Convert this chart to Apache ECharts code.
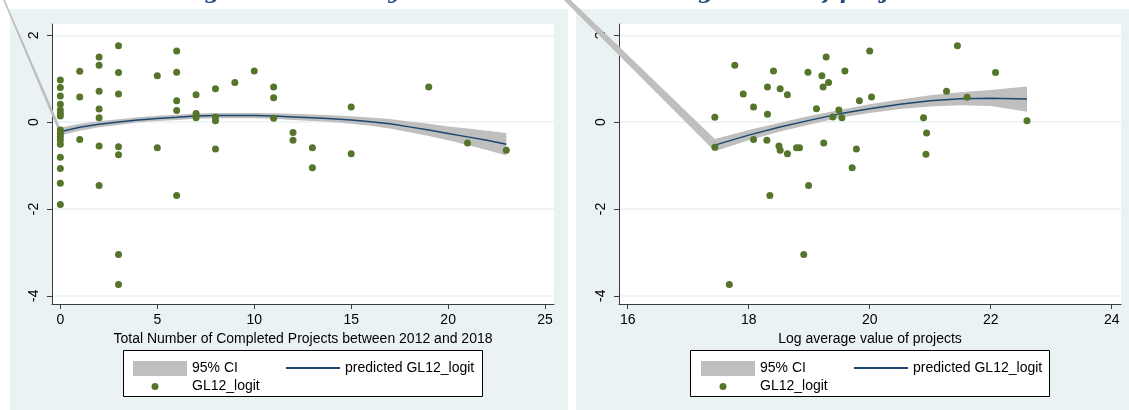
<!DOCTYPE html>
<html>
<head>
<meta charset="utf-8">
<script src="https://cdn.jsdelivr.net/npm/echarts@6/dist/echarts.min.js"></script>
<style>
  html, body { margin: 0; padding: 0; background: #ffffff; }
  #chart { width: 1129px; height: 410px; }
</style>
</head>
<body>
<div id="chart"></div>
<script>
// ---- Left panel: number of completed projects vs GL12_logit ----
const countX = [0,0,0,0,0,0,0,0,0,0,0,0,0,0,0,0,
  1,1,1,
  2,2,2,2,2,2,2,
  3,3,3,3,3,3,3,
  5,5,
  6,6,6,6,6,
  7,7,7,
  8,8,8,8,
  9,10,
  11,11,11,
  12,12,13,13,15,15,19,21,23];
const countY = [0.97,0.80,0.60,0.41,0.28,0.20,0.14,-0.18,-0.26,-0.34,-0.41,-0.51,-0.81,-1.07,-1.41,-1.90,
  1.17,0.58,-0.40,
  1.50,1.31,0.71,0.30,0.10,-0.55,-1.46,
  1.76,1.14,0.65,-0.57,-0.75,-3.05,-3.74,
  1.07,-0.59,
  1.64,1.15,0.49,0.27,-1.69,
  0.63,0.20,0.10,
  0.77,0.12,0.03,-0.62,
  0.91,1.18,
  0.81,0.56,0.09,
  -0.24,-0.42,-0.59,-1.05,0.35,-0.73,0.81,-0.48,-0.65];

// quadratic prediction and its 95% band
const countFitX = [0,1,2,3,4,5,6,7,8,9,10,11,12,13,14,15,16,17,18,19,20,21,22,23];
const countFit  = [-0.22,-0.12,-0.05,0.00,0.05,0.085,0.11,0.14,0.15,0.15,0.15,0.14,0.12,0.10,0.08,0.05,0.01,-0.04,-0.11,-0.18,-0.26,-0.34,-0.42,-0.51];
const countCiX  = [-6,0,1,2,3,4,5,6,7,8,9,10,11,12,13,14,15,16,17,18,19,20,21,22,23];
const countCiLo = [6.05,-0.31,-0.20,-0.12,-0.065,-0.01,0.025,0.05,0.08,0.09,0.09,0.09,0.075,0.05,0.025,0.0,-0.035,-0.085,-0.15,-0.235,-0.32,-0.42,-0.53,-0.64,-0.77];
const countCiHi = [6.05,-0.13,-0.04,0.02,0.065,0.11,0.145,0.17,0.20,0.21,0.21,0.21,0.205,0.19,0.175,0.16,0.135,0.105,0.07,0.015,-0.04,-0.10,-0.15,-0.20,-0.25];

// ---- Right panel: log average project value vs GL12_logit ----
const valueX = [17.44,17.44,17.77,17.91,18.08,18.08,18.31,18.31,18.30,18.35,18.41,18.52,18.50,18.52,18.64,18.64,18.79,18.84,18.98,18.99,
  19.12,19.21,19.23,19.32,19.24,19.28,19.39,19.49,19.54,19.59,19.71,19.78,19.83,
  20.00,20.03,20.89,20.94,20.93,21.27,21.45,21.61,22.08,22.60,17.68,18.91];
const valueY = [0.11,-0.58,1.31,0.65,0.35,-0.40,0.81,0.18,-0.42,-1.69,1.18,0.77,-0.55,-0.65,0.63,-0.73,-0.59,-0.59,1.15,-1.46,
  0.31,1.07,0.81,0.91,-0.48,1.50,0.12,0.28,0.10,1.18,-1.05,-0.62,0.49,
  1.64,0.58,0.10,-0.25,-0.74,0.71,1.76,0.57,1.14,0.03,-3.74,-3.05];

const valueFitX = [17.44,18,18.5,19,19.5,20,20.5,21,21.5,22,22.6];
const valueFit  = [-0.53,-0.30,-0.12,0.04,0.19,0.31,0.41,0.49,0.54,0.55,0.53];
const valueCiX  = [12,17.44,18,18.5,19,19.5,20,20.5,21,21.5,22,22.6];
const valueCiLo = [6.92,-0.67,-0.42,-0.22,-0.06,0.10,0.21,0.30,0.36,0.39,0.37,0.24];
const valueCiHi = [6.92,-0.39,-0.18,-0.02,0.14,0.28,0.41,0.52,0.62,0.69,0.74,0.82];

const countTicks = [0,5,10,15,20,25];
const valueTicks = [16,18,20,22,24];
const yTicks = [-4,-2,0,2];

const titleText = 'Figure 4: GL12 by total number and average value of projects.';
const countTitle = 'Total Number of Completed Projects between 2012 and 2018';
const valueTitle = 'Log average value of projects';

// ---- styling ----
const FONT = '"Liberation Sans", Arial, sans-serif';
const PANEL_BG = '#eaf2f3';
const AXIS_COLOR = '#3c3c3c';
const FIT_COLOR = '#1a476f';
const CI_COLOR = '#bfbfbf';
const DOT_COLOR = '#55762a';
// small dot placed inside a 54x15 legend slot
const DOT_ICON = 'path://M0,0M54,15M18.5,7.5a3.5,3.5,0,1,0,7,0a3.5,3.5,0,1,0,-7,0z';

function zip(xs, ys) { return xs.map((x, i) => [x, ys[i]]); }

function bandSeries(gridIdx, xs, lo, hi) {
  return {
    type: 'custom', name: '95% CI',
    xAxisIndex: gridIdx, yAxisIndex: gridIdx,
    clip: false, silent: true, z: 1,
    itemStyle: { color: CI_COLOR },
    data: xs.map((x, i) => [x, lo[i], hi[i]]),
    encode: { x: 0, y: [1, 2] },
    renderItem: function (params, api) {
      if (params.dataIndex !== 0) return null;
      const pts = [];
      for (let i = 0; i < xs.length; i++) pts.push(api.coord([xs[i], hi[i]]));
      for (let i = xs.length - 1; i >= 0; i--) pts.push(api.coord([xs[i], lo[i]]));
      return { type: 'polygon', shape: { points: pts }, style: { fill: CI_COLOR } };
    }
  };
}

function xAxisCfg(gridIdx, min, max, ticks, name) {
  return {
    type: 'value', gridIndex: gridIdx, min: min, max: max,
    name: name, nameLocation: 'middle', nameGap: 21,
    nameTextStyle: { fontFamily: FONT, fontSize: 14, color: '#000' },
    axisLine: { show: true, onZero: false, lineStyle: { color: AXIS_COLOR, width: 1 } },
    axisTick: { show: true, length: 5, customValues: ticks, lineStyle: { color: AXIS_COLOR } },
    axisLabel: { customValues: ticks, margin: 9, fontFamily: FONT, fontSize: 14, color: '#000' },
    splitLine: { show: false }
  };
}

function yAxisCfg(gridIdx) {
  return {
    type: 'value', gridIndex: gridIdx, min: -4.19, max: 2.26,
    axisLine: { show: true, onZero: false, lineStyle: { color: AXIS_COLOR, width: 1 } },
    axisTick: { show: true, length: 5, customValues: yTicks, lineStyle: { color: AXIS_COLOR } },
    axisLabel: { customValues: yTicks, rotate: 90, margin: 11, fontFamily: FONT, fontSize: 14, color: '#000' },
    splitLine: { show: true, lineStyle: { color: PANEL_BG, width: 1.5 } }
  };
}

function legendItem(item, left, top) {
  return {
    data: [item], left: left, top: top,
    itemWidth: 54, itemHeight: 15, selectedMode: false,
    textStyle: { fontFamily: FONT, fontSize: 14, color: '#000' }
  };
}

const ciItem = { name: '95% CI', icon: 'rect' };
const fitItem = { name: 'predicted GL12_logit', itemStyle: { opacity: 0 } };
const dotItem = { name: 'GL12_logit', icon: DOT_ICON };

const chart = echarts.init(document.getElementById('chart'), null, { renderer: 'canvas' });
chart.setOption({
  animation: false,
  backgroundColor: '#ffffff',
  grid: [
    { left: 52, top: 24, width: 502, height: 280, show: true, backgroundColor: '#ffffff', borderWidth: 0, containLabel: false },
    { left: 619, top: 24, width: 502, height: 280, show: true, backgroundColor: '#ffffff', borderWidth: 0, containLabel: false }
  ],
  xAxis: [
    xAxisCfg(0, -0.43, 25.46, countTicks, countTitle),
    xAxisCfg(1, 15.856, 24.154, valueTicks, valueTitle)
  ],
  yAxis: [yAxisCfg(0), yAxisCfg(1)],
  legend: [
    legendItem(ciItem, 128, 356),
    legendItem(fitItem, 280, 356),
    legendItem(dotItem, 128, 374),
    legendItem(ciItem, 696, 356),
    legendItem(fitItem, 848, 356),
    legendItem(dotItem, 696, 374)
  ],
  graphic: [
    { type: 'rect', z: -10, silent: true, shape: { x: 10, y: 9, width: 558, height: 401 }, style: { fill: PANEL_BG } },
    { type: 'rect', z: -10, silent: true, shape: { x: 576, y: 9, width: 553, height: 401 }, style: { fill: PANEL_BG } },
    { type: 'rect', z: 2, silent: true, shape: { x: 123.5, y: 350.5, width: 359, height: 46 }, style: { fill: '#ffffff', stroke: '#000000', lineWidth: 1 } },
    { type: 'rect', z: 2, silent: true, shape: { x: 690.5, y: 350.5, width: 359, height: 46 }, style: { fill: '#ffffff', stroke: '#000000', lineWidth: 1 } },
    { type: 'text', z: 20, silent: true, style: { text: titleText, x: 564, y: 3, align: 'center', verticalAlign: 'bottom',
      font: 'italic bold 22px "DejaVu Serif", serif', fill: '#2a4a86' } }
  ],
  series: [
    bandSeries(0, countCiX, countCiLo, countCiHi),
    { type: 'line', name: 'predicted GL12_logit', xAxisIndex: 0, yAxisIndex: 0, data: zip(countFitX, countFit),
      symbol: 'none', z: 2, lineStyle: { color: FIT_COLOR, width: 1.5 }, itemStyle: { color: FIT_COLOR } },
    { type: 'scatter', name: 'GL12_logit', xAxisIndex: 0, yAxisIndex: 0, data: zip(countX, countY),
      symbolSize: 7, z: 3, itemStyle: { color: DOT_COLOR, opacity: 1 } },
    bandSeries(1, valueCiX, valueCiLo, valueCiHi),
    { type: 'line', name: 'predicted GL12_logit', xAxisIndex: 1, yAxisIndex: 1, data: zip(valueFitX, valueFit),
      symbol: 'none', z: 2, lineStyle: { color: FIT_COLOR, width: 1.5 }, itemStyle: { color: FIT_COLOR } },
    { type: 'scatter', name: 'GL12_logit', xAxisIndex: 1, yAxisIndex: 1, data: zip(valueX, valueY),
      symbolSize: 7, z: 3, itemStyle: { color: DOT_COLOR, opacity: 1 } }
  ]
});
</script>
</body>
</html>
